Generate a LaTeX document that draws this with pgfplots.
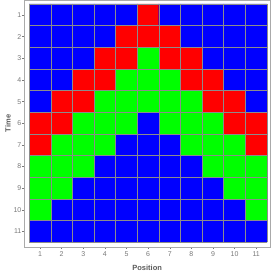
\documentclass[border=0pt]{standalone}
\usepackage{pgfplots}
\pgfplotsset{compat=1.18}
\usepackage{fontspec}
\setmainfont{Liberation Sans}
\definecolor{tickgray}{RGB}{120,120,120}
\definecolor{labgray}{RGB}{90,90,90}
\definecolor{framegray}{RGB}{170,170,170}
\definecolor{cellgray}{RGB}{140,140,140}
\begin{document}
\begin{tikzpicture}
\begin{axis}[
  scale only axis,
  width=245.7pt, height=246.4pt,
  xmin=0.27, xmax=11.64,
  ymin=0.32, ymax=11.7,
  y dir=reverse,
  axis line style={framegray},
  xtick={1,...,11}, ytick={1,...,11},
  xtick pos=bottom, ytick pos=left,
  tick align=outside,
  major tick length=2.5pt,
  tick style={tickgray, line width=0.4pt},
  ticklabel style={font=\fontsize{7}{8}\selectfont, text=tickgray, inner sep=1.5pt},
  xticklabel style={yshift=-1pt},
  yticklabel style={xshift=1.2pt},
  /pgf/number format/assume math mode=true,
  xlabel={\textbf{Position}}, ylabel={\textbf{Time}},
  label style={font=\fontsize{7.5}{9}\selectfont, text=labgray},
  xlabel style={at={(axis description cs:0.5,0)}, anchor=center, yshift=-21.3pt},
  ylabel style={at={(axis description cs:0,0.5)}, anchor=center, rotate=0, yshift=16.3pt},
  colormap={cells}{rgb255=(0,0,255) rgb255=(255,0,0) rgb255=(0,255,0)},
  colormap access=direct,
  unbounded coords=jump,
]
\addplot[matrix plot*, mesh/cols=11, point meta=explicit] table[meta=c] {
x y c
1 1 0
2 1 0
3 1 0
4 1 0
5 1 0
6 1 1
7 1 0
8 1 0
9 1 0
10 1 0
11 1 0
1 2 0
2 2 0
3 2 0
4 2 0
5 2 1
6 2 1
7 2 1
8 2 0
9 2 0
10 2 0
11 2 0
1 3 0
2 3 0
3 3 0
4 3 1
5 3 1
6 3 2
7 3 1
8 3 1
9 3 0
10 3 0
11 3 0
1 4 0
2 4 0
3 4 1
4 4 1
5 4 2
6 4 2
7 4 2
8 4 1
9 4 1
10 4 0
11 4 0
1 5 0
2 5 1
3 5 1
4 5 2
5 5 2
6 5 2
7 5 2
8 5 2
9 5 1
10 5 1
11 5 0
1 6 1
2 6 1
3 6 2
4 6 2
5 6 2
6 6 0
7 6 2
8 6 2
9 6 2
10 6 1
11 6 1
1 7 1
2 7 2
3 7 2
4 7 2
5 7 0
6 7 0
7 7 0
8 7 2
9 7 2
10 7 2
11 7 1
1 8 2
2 8 2
3 8 2
4 8 0
5 8 0
6 8 0
7 8 0
8 8 0
9 8 2
10 8 2
11 8 2
1 9 2
2 9 2
3 9 0
4 9 0
5 9 0
6 9 0
7 9 0
8 9 0
9 9 0
10 9 2
11 9 2
1 10 2
2 10 0
3 10 0
4 10 0
5 10 0
6 10 0
7 10 0
8 10 0
9 10 0
10 10 0
11 10 2
1 11 0
2 11 0
3 11 0
4 11 0
5 11 0
6 11 0
7 11 0
8 11 0
9 11 0
10 11 0
11 11 0
};
\addplot[cellgray, line width=0.7pt, no marks] coordinates {
(0.5,0.5) (0.5,11.5) (nan,nan)
(1.5,0.5) (1.5,11.5) (nan,nan)
(2.5,0.5) (2.5,11.5) (nan,nan)
(3.5,0.5) (3.5,11.5) (nan,nan)
(4.5,0.5) (4.5,11.5) (nan,nan)
(5.5,0.5) (5.5,11.5) (nan,nan)
(6.5,0.5) (6.5,11.5) (nan,nan)
(7.5,0.5) (7.5,11.5) (nan,nan)
(8.5,0.5) (8.5,11.5) (nan,nan)
(9.5,0.5) (9.5,11.5) (nan,nan)
(10.5,0.5) (10.5,11.5) (nan,nan)
(11.5,0.5) (11.5,11.5) (nan,nan)
(0.5,0.5) (11.5,0.5) (nan,nan)
(0.5,1.5) (11.5,1.5) (nan,nan)
(0.5,2.5) (11.5,2.5) (nan,nan)
(0.5,3.5) (11.5,3.5) (nan,nan)
(0.5,4.5) (11.5,4.5) (nan,nan)
(0.5,5.5) (11.5,5.5) (nan,nan)
(0.5,6.5) (11.5,6.5) (nan,nan)
(0.5,7.5) (11.5,7.5) (nan,nan)
(0.5,8.5) (11.5,8.5) (nan,nan)
(0.5,9.5) (11.5,9.5) (nan,nan)
(0.5,10.5) (11.5,10.5) (nan,nan)
(0.5,11.5) (11.5,11.5)
};
\end{axis}
\pgfresetboundingbox
\path ([shift={(-24.3pt,-26.3pt)}]current axis.south west) rectangle ([shift={(3pt,0.3pt)}]current axis.north east);
\end{tikzpicture}
\end{document}
